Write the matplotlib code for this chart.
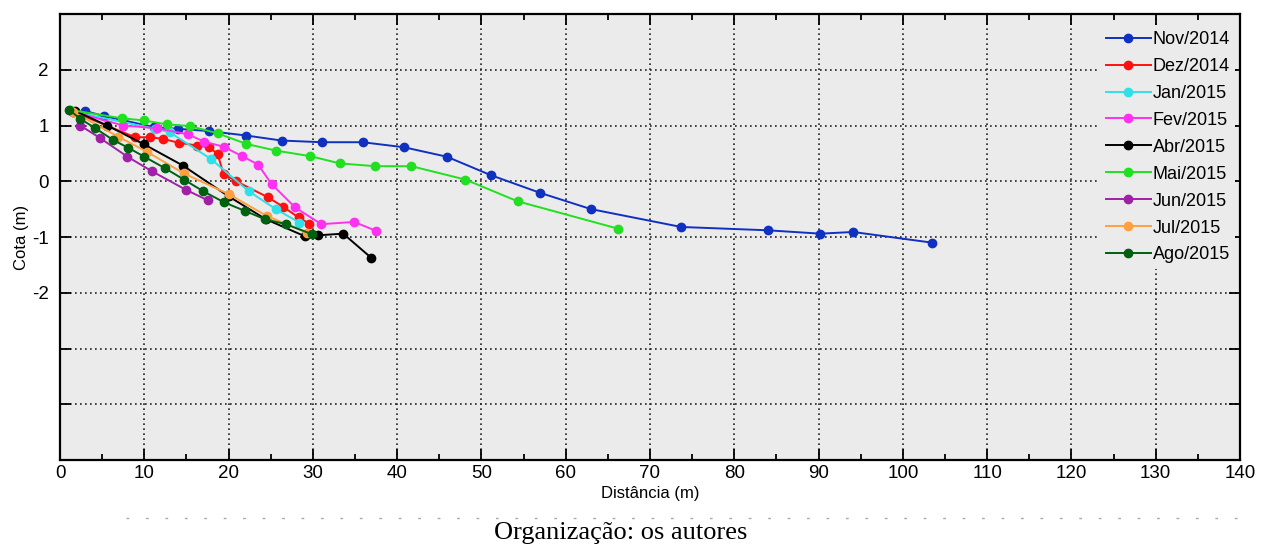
import matplotlib
matplotlib.use("Agg")
import matplotlib.pyplot as plt
from matplotlib.lines import Line2D
from matplotlib.ticker import MultipleLocator

plt.rcParams['font.family'] = ['Liberation Sans', 'DejaVu Sans']

# profile data (distance in m, elevation in m)
nov14_x = [3.0, 5.2, 11.2, 14.0, 17.7, 22.1, 26.3, 31.1, 35.9, 40.8, 45.9, 51.1, 57.0, 63.0, 73.7, 84.0, 90.2, 94.1, 103.4]
nov14_y = [1.26, 1.17, 0.97, 0.94, 0.90, 0.82, 0.73, 0.70, 0.70, 0.61, 0.44, 0.11, -0.21, -0.50, -0.82, -0.88, -0.94, -0.91, -1.10]

dez14_x = [1.5, 8.9, 10.7, 12.2, 14.1, 16.3, 17.7, 18.7, 19.4, 20.9, 24.7, 26.5, 28.3, 29.6]
dez14_y = [1.25, 0.79, 0.79, 0.76, 0.69, 0.64, 0.61, 0.49, 0.13, 0.00, -0.29, -0.46, -0.65, -0.76]

jan15_x = [1.5, 11.3, 13.0, 17.9, 22.4, 25.6, 28.4]
jan15_y = [1.25, 0.94, 0.88, 0.40, -0.18, -0.50, -0.74]

fev15_x = [1.5, 7.5, 11.5, 15.2, 17.1, 19.4, 21.6, 23.5, 25.1, 27.9, 31.0, 34.9, 37.5]
fev15_y = [1.25, 1.00, 0.95, 0.84, 0.71, 0.62, 0.45, 0.30, -0.05, -0.47, -0.77, -0.73, -0.89]

abr15_x = [1.8, 5.6, 10.0, 14.6, 20.0, 24.4, 29.1, 30.6, 33.6, 36.9]
abr15_y = [1.26, 1.00, 0.66, 0.28, -0.27, -0.68, -0.99, -0.97, -0.94, -1.37]

mai15_x = [1.2, 7.3, 10.0, 12.7, 15.4, 18.7, 22.1, 25.6, 29.7, 33.2, 37.4, 41.7, 48.1, 54.3, 66.2]
mai15_y = [1.28, 1.13, 1.09, 1.02, 0.99, 0.86, 0.67, 0.55, 0.45, 0.32, 0.27, 0.27, 0.03, -0.36, -0.85]

jun15_x = [2.4, 4.8, 8.0, 10.9, 14.9, 17.5]
jun15_y = [1.00, 0.77, 0.44, 0.18, -0.15, -0.34]

jul15_x = [1.5, 6.9, 10.3, 14.7, 20.0, 24.5, 29.3]
jul15_y = [1.25, 0.80, 0.53, 0.14, -0.23, -0.62, -0.92]

ago15_x = [1.1, 2.4, 4.2, 6.3, 8.1, 10.0, 12.5, 14.7, 17.0, 19.5, 21.9, 24.3, 26.8, 29.9]
ago15_y = [1.28, 1.12, 0.95, 0.74, 0.60, 0.44, 0.23, 0.03, -0.18, -0.38, -0.53, -0.68, -0.77, -0.95]

labels = ['Nov/2014', 'Dez/2014', 'Jan/2015', 'Fev/2015', 'Abr/2015',
          'Mai/2015', 'Jun/2015', 'Jul/2015', 'Ago/2015']
colors = ['#1030C0', '#FF1010', '#30E0E8', '#FF30F0', '#000000',
          '#20E020', '#A020A8', '#FFA040', '#006010']

series = [(nov14_x, nov14_y), (dez14_x, dez14_y), (jan15_x, jan15_y),
          (fev15_x, fev15_y), (abr15_x, abr15_y), (mai15_x, mai15_y),
          (jun15_x, jun15_y), (jul15_x, jul15_y), (ago15_x, ago15_y)]

fig = plt.figure(figsize=(12.62, 5.48), dpi=100)
ax = fig.add_axes([60 / 1262, 1 - 460 / 548, 1180 / 1262, 446 / 548])
ax.set_facecolor('#EBEBEB')

for (xs, ys), lab, c in zip(series, labels, colors):
    ax.plot(xs, ys, '-o', color=c, lw=1.4, ms=6, label=lab)

ax.set_xlim(0, 140)
ax.set_ylim(-5, 3)
ax.xaxis.set_major_locator(MultipleLocator(10))
ax.xaxis.set_minor_locator(MultipleLocator(5))
ax.set_yticks([-4, -3, -2, -1, 0, 1, 2])
ax.set_yticklabels(['', '', '-2', '-1', '0', '1', '2'])
ax.grid(True, which='major', ls=(0, (1, 2)), color='#222222', lw=1.2)
ax.set_axisbelow(True)
ax.tick_params(which='both', direction='in', top=True, right=True, labelsize=13.5)
ax.tick_params(which='major', length=8, width=1.3)
ax.tick_params(which='minor', length=4, width=1.3)
ax.tick_params(axis='y', pad=8)
for s in ax.spines.values():
    s.set_linewidth(1.6)

ax.set_xlabel('Distância (m)', fontsize=12, labelpad=3)
ax.set_ylabel('Cota (m)', fontsize=12, labelpad=2)

leg = ax.legend(loc='upper right', bbox_to_anchor=(0.996, 0.974), fontsize=13,
                frameon=True, handlelength=2.5, labelspacing=0.55,
                handletextpad=0.1, borderaxespad=0.0, borderpad=0.3)
leg.get_frame().set_facecolor('#EBEBEB')
leg.get_frame().set_edgecolor('none')
leg.get_frame().set_alpha(1)

# faint cut-off row under the axis label
fig.add_artist(Line2D([0.1, 0.985], [1 - 518 / 548] * 2, ls=(0, (2, 12)),
                      color='#AAAAAA', lw=1))

fig.text(0.492, 1 - 533 / 548, 'Organização: os autores', ha='center', va='center',
         fontsize=19, family='Liberation Serif')

fig.savefig('out.png', dpi=100)
